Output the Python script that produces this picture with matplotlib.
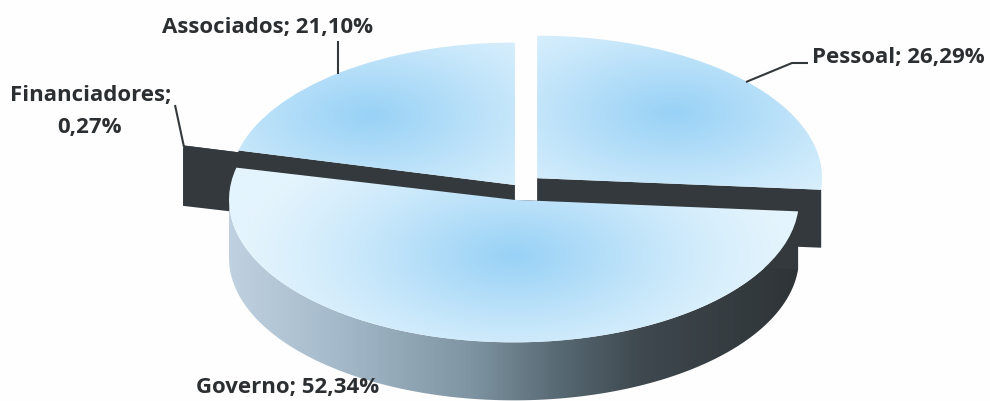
import numpy as np
import matplotlib
matplotlib.use("Agg")
import matplotlib.pyplot as plt
from matplotlib.colors import LinearSegmentedColormap
from matplotlib.patches import Polygon

categories = ["Pessoal", "Governo", "Financiadores", "Associados"]
shares = [26.29, 52.34, 0.27, 21.10]
value_labels = ["26,29%", "52,34%", "0,27%", "21,10%"]

W, H = 990, 401
YS = 0.5                 # vertical squash of the tilted pie
RADIUS = 285
CENTER = (518, (H - 187) / YS)
DEPTH = 58 / YS
EXPLODE = [26, 26, 59, 5]
GLOW = [(0.48, 0.46), (0.0, -0.39), (0.0, 0.0), (-0.51, 0.49)]
DRAW_ORDER = [2, 3, 0, 1]
FACE_DARK = "#33393d"

def py(y):
    return (H - y) / YS

plt.rcParams["font.family"] = ["Open Sans", "DejaVu Sans"]
fig = plt.figure(figsize=(W / 100, H / 100), dpi=100, facecolor="#fefefe")
ax = fig.add_axes([0, 0, 1, 1])

res = ax.pie(shares, explode=[e / RADIUS for e in EXPLODE], radius=RADIUS, center=CENTER,
             startangle=90, counterclock=False, frame=True, normalize=True)
wedges = res[0]
for w, e in zip(wedges, EXPLODE):
    mid = np.radians((w.theta1 + w.theta2) / 2)
    w.set_center((CENTER[0] + e * np.cos(mid), CENTER[1] + e * np.sin(mid)))
    w.set_facecolor("none")
    w.set_edgecolor("none")
    w.set_linewidth(0)

ax.set_aspect("auto")
ax.set_xlim(0, W)
ax.set_ylim(0, H / YS)
ax.set_axis_off()

top_cmap = LinearSegmentedColormap.from_list(
    "top", ["#98d2f6", "#addbf8", "#c3e5fa", "#d6eefc", "#e4f4fd"])
wall_cmap = LinearSegmentedColormap.from_list(
    "wall", [(0, "#c0d2e2"), (0.2, "#a3b8c8"), (0.42, "#7f95a3"), (0.58, "#566872"),
             (0.72, "#3e484e"), (1, "#2e3336")])

def front_arc(w, n=240):
    t = np.radians(np.linspace(w.theta1, w.theta2, n))
    keep = np.sin(t) <= 0
    return w.center[0] + w.r * np.cos(t[keep]), w.center[1] + w.r * np.sin(t[keep])

for z, i in enumerate(DRAW_ORDER):
    w = wedges[i]
    base = 2 + z * 3
    cx, cy = w.center
    x, y = front_arc(w)

    # outer wall, shaded along x (only the part facing the viewer)
    if len(x) > 1:
        pts = np.column_stack([np.r_[x, x[::-1]], np.r_[y, y[::-1] - DEPTH]])
        wall = Polygon(pts, closed=True, fc="none", ec="none", zorder=base)
        ax.add_patch(wall)
        gx = np.linspace(0, 1, 400)[None, :]
        im = ax.imshow(gx, extent=(226, 805, 0, H / YS), aspect="auto", cmap=wall_cmap,
                       vmin=0, vmax=1, zorder=base, origin="lower")
        im.set_clip_path(wall)

    # flat cut faces
    for t in (w.theta1, w.theta2):
        rx, ry = cx + w.r * np.cos(np.radians(t)), cy + w.r * np.sin(np.radians(t))
        face = [(cx, cy), (rx, ry), (rx, ry - DEPTH), (cx, cy - DEPTH)]
        ax.add_patch(Polygon(face, closed=True, fc=FACE_DARK, ec="none", zorder=base + 1))

    # top with radial glow
    w.set_zorder(base + 2)
    if categories[i] == "Financiadores":
        # the sliver is too thin to show a light top in the reference
        w.set_facecolor(FACE_DARK)
        continue
    gxc, gyc = cx + GLOW[i][0] * w.r, cy + GLOW[i][1] * w.r
    xx, yy = np.meshgrid(np.linspace(0, W, 500), np.linspace(0, H / YS, 400))
    d = np.hypot((xx - gxc) / 270, (yy - gyc) / 270)
    im2 = ax.imshow(np.clip(d, 0, 1), extent=(0, W, 0, H / YS), aspect="auto", cmap=top_cmap,
                    vmin=0, vmax=1, zorder=base + 2, origin="lower")
    im2.set_clip_path(w)

ax.set_xlim(0, W)
ax.set_ylim(0, H / YS)

TXT = dict(fontsize=16, fontweight="bold", color="#2c2f31", zorder=40)
lab = [f"{c}; {v}" for c, v in zip(categories, value_labels)]
ax.text(812, py(57), lab[0], ha="left", va="center", **TXT)
ax.text(288, py(388), lab[1], ha="center", va="center", **TXT)
ax.text(91, py(95), f"{categories[2]};", ha="center", va="center", **TXT)
ax.text(90, py(128), value_labels[2], ha="center", va="center", **TXT)
ax.text(267, py(27), lab[3], ha="center", va="center", **TXT)

LEAD = dict(color="#33383b", lw=1.5, zorder=39, solid_capstyle="butt")
ax.plot([746, 792, 808], [py(82), py(63), py(63)], **LEAD)
ax.plot([338, 338], [py(41), py(74)], **LEAD)
ax.plot([175, 184], [py(105), py(147)], **LEAD)

fig.savefig("out.png", dpi=100, facecolor=fig.get_facecolor())
